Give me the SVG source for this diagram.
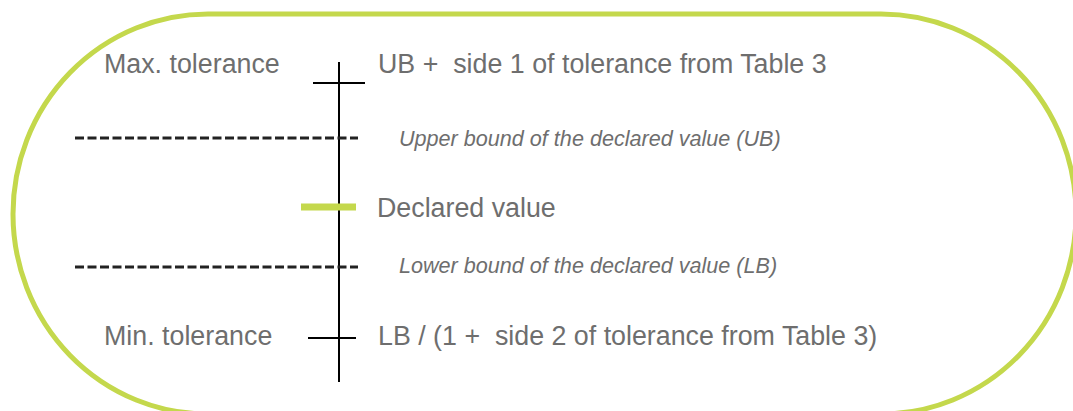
<svg xmlns="http://www.w3.org/2000/svg" width="1073" height="411" viewBox="0 0 1073 411">
<style>
.lbl{font-family:"Liberation Sans",Arial,sans-serif;font-size:26.8px;fill:#6e6e6e;white-space:pre}
.it{font-family:"Liberation Sans",Arial,sans-serif;font-size:21.6px;font-style:italic;fill:#6e6e6e}
.axis{stroke:#000;stroke-width:2;fill:none}
.dash{stroke:#222;stroke-width:3;stroke-dasharray:9 3.5;fill:none}
</style>
<rect id="frame" x="13" y="14" width="1063" height="400" rx="195" ry="200" fill="none" stroke="#c4d84c" stroke-width="5"/>
<g id="connectors">
<line class="axis" x1="339" y1="62" x2="339" y2="382"/>
<line class="dash" x1="75" y1="138" x2="358" y2="138"/>
<line class="dash" x1="75" y1="267" x2="358" y2="267"/>
</g>
<g id="max-tol">
<line class="axis" x1="313" y1="83" x2="365" y2="83"/>
<text class="lbl" x="104" y="73">Max. tolerance</text>
<text class="lbl" x="378" y="73" xml:space="preserve">UB +  side 1 of tolerance from Table 3</text>
</g>
<g id="ub">
<text class="it" x="399" y="146">Upper bound of the declared value (UB)</text>
</g>
<g id="declared">
<line x1="301" y1="207" x2="356" y2="207" stroke="#c4d84c" stroke-width="7"/>
<text class="lbl" x="377" y="217">Declared value</text>
</g>
<g id="lb">
<text class="it" x="399" y="273">Lower bound of the declared value (LB)</text>
</g>
<g id="min-tol">
<line class="axis" x1="308" y1="338" x2="356" y2="338"/>
<text class="lbl" x="104" y="345">Min. tolerance</text>
<text class="lbl" x="378" y="345" xml:space="preserve">LB / (1 +  side 2 of tolerance from Table 3)</text>
</g>
</svg>
